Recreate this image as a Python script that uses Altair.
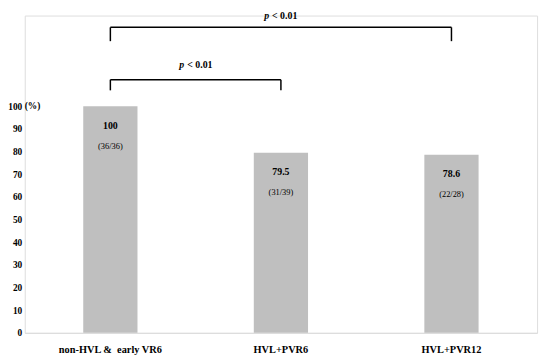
import altair as alt
import pandas as pd

categories = ["non-HVL &\u00a0 early VR6", "HVL+PVR6", "HVL+PVR12"]
values = [100, 79.5, 78.6]
value_labels = ["100", "79.5", "78.6"]
fractions = ["(36/36)", "(31/39)", "(22/28)"]
y_max_tick = 100

# brackets: (start category, end category, bar level, tip level, text level)
br_start = [categories[0], categories[0]]
br_end = [categories[2], categories[1]]
br_y = [134.8, 111.7]
br_tip = [128.7, 107.0]
p_text_y = [139.6, 118.3]

FONT = "Liberation Serif"

bars_df = pd.DataFrame({"cat": categories, "val": values,
                        "vlab": value_labels, "frac": fractions})
br_df = pd.DataFrame({"s": br_start, "e": br_end, "y": br_y, "tip": br_tip, "ty": p_text_y})

xscale = alt.Scale(domain=categories, paddingInner=0.682, paddingOuter=0.343)
yscale = alt.Scale(domain=[0, 140], nice=False)


def X(field):
    return alt.X(field, scale=xscale, sort=categories, title=None)


def Y(field):
    return alt.Y(field, scale=yscale, title=None)


bars = alt.Chart(bars_df).mark_bar(color="#bfbfbf").encode(x=X("cat:N"), y=Y("val:Q"))

vlab = alt.Chart(bars_df).mark_text(font=FONT, fontWeight="bold", fontSize=10, dy=20, color="#000").encode(
    x=X("cat:N"), y=Y("val:Q"), text="vlab:N")
flab = alt.Chart(bars_df).mark_text(font=FONT, fontSize=8.5, dy=40, color="#000").encode(
    x=X("cat:N"), y=Y("val:Q"), text="frac:N")

pct = alt.Chart(bars_df.head(1)).mark_text(font=FONT, fontWeight="bold", fontSize=9.5, align="left", color="#000").encode(
    x=alt.value(0), y=Y("val:Q"), text=alt.value("(%)"))

hline = alt.Chart(br_df).mark_rule(color="#000", strokeWidth=1.5).encode(
    x=X("s:N"), x2="e:N", y=Y("y:Q"))
lt = alt.Chart(br_df).mark_rule(color="#000", strokeWidth=1.5).encode(
    x=X("s:N"), y=Y("y:Q"), y2="tip:Q")
rt = alt.Chart(br_df).mark_rule(color="#000", strokeWidth=1.5).encode(
    x=X("e:N"), y=Y("y:Q"), y2="tip:Q")

p_df = pd.DataFrame({"c": [categories[1], categories[0]], "ty": p_text_y})
p1 = alt.Chart(p_df.iloc[[0]]).mark_text(font=FONT, fontWeight="bold", fontStyle="italic", fontSize=10,
                                          align="right", dx=-12, color="#000").encode(
    x=X("c:N"), y=Y("ty:Q"), text=alt.value("p"))
p1b = alt.Chart(p_df.iloc[[0]]).mark_text(font=FONT, fontWeight="bold", fontSize=10,
                                           align="left", dx=-9, color="#000").encode(
    x=X("c:N"), y=Y("ty:Q"), text=alt.value("< 0.01"))
p2 = alt.Chart(p_df.iloc[[1]]).mark_text(font=FONT, fontWeight="bold", fontStyle="italic", fontSize=10,
                                          align="right", dx=87 - 12, color="#000").encode(
    x=X("c:N"), y=Y("ty:Q"), text=alt.value("p"))
p2b = alt.Chart(p_df.iloc[[1]]).mark_text(font=FONT, fontWeight="bold", fontSize=10,
                                           align="left", dx=87 - 9, color="#000").encode(
    x=X("c:N"), y=Y("ty:Q"), text=alt.value("< 0.01"))

chart = alt.layer(bars, vlab, flab, pct, hline, lt, rt, p1, p1b, p2, p2b).properties(
    width=520, height=322,
    autosize=alt.AutoSizeParams(type="none"),
    padding={"left": 17, "top": 5, "right": 5, "bottom": 30},
).configure_view(stroke=None).configure(background="white").configure_axisY(
    tickCount=14, grid=False, domain=False, ticks=False,
    labelFont=FONT, labelFontWeight="bold", labelFontSize=9.5,
    labelColor="#000", labelPadding=3, labelOverlap=False,
    labelExpr=f"datum.value <= {y_max_tick} ? datum.label : ''",
).configure_axisX(
    labelAngle=0, labelFont=FONT, labelFontWeight="bold",
    labelFontSize=10.5, labelColor="#000", ticks=False,
    domainColor="#d9d9d9", labelPadding=12,
)

chart.save("out.html", embed_options={"renderer": "svg", "actions": False})
